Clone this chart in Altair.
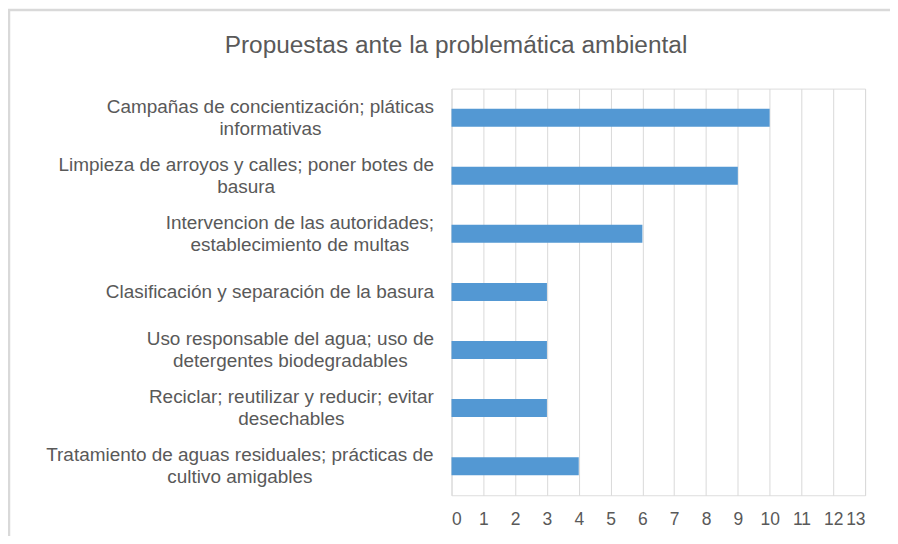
import json
import altair as alt
import pandas as pd

# ---------------- data ----------------
categories = [
    "Campañas de concientización; pláticas\ninformativas",
    "Limpieza de arroyos y calles; poner botes de\nbasura",
    "Intervencion de las autoridades;\nestablecimiento de multas",
    "Clasificación y separación de la basura",
    "Uso responsable del agua; uso de\ndetergentes biodegradables",
    "Reciclar; reutilizar y reducir; evitar\ndesechables",
    "Tratamiento de aguas residuales; prácticas de\ncultivo amigables",
]
values = [10, 9, 6, 3, 3, 3, 4]
x_ticks = list(range(0, 14))
title_text = "Propuestas ante la problemática ambiental"

df = pd.DataFrame({"cat": categories, "val": values})

# ---------------- styling ----------------
FONT = "Liberation Sans"
TEXT = "#595959"
GRID = "#d9d9d9"
BAR = "#5398D3"
LABEL_SIZE = 19
LINE_H = 22
GAP = 18

# Arial / Liberation Sans advance widths (1/1000 em) for centering label blocks
W = {
    "a": 556, "b": 556, "c": 500, "d": 556, "e": 556, "f": 278, "g": 556, "h": 556,
    "i": 222, "j": 222, "k": 500, "l": 222, "m": 833, "n": 556, "o": 556, "p": 556,
    "q": 556, "r": 333, "s": 500, "t": 278, "u": 556, "v": 500, "w": 722, "x": 500,
    "y": 500, "z": 500, "á": 556, "é": 556, "í": 278, "ó": 556, "ñ": 556, " ": 278,
    ";": 278, "C": 722, "L": 556, "I": 278, "U": 722, "R": 722, "T": 611, "P": 667,
}


def text_width(s, size):
    return sum(W.get(ch, 556) for ch in s) / 1000.0 * size


pad_conds = []
for c in categories:
    w = max(text_width(line, LABEL_SIZE) for line in c.split("\n"))
    pad_conds.append({"test": f"datum.value === {json.dumps(c)}", "value": round(GAP + w / 2, 1)})

bars = alt.Chart(df).mark_bar(color=BAR).encode(
    x=alt.X(
        "val:Q",
        scale=alt.Scale(domain=[0, 13], nice=False),
        axis=alt.Axis(
            title=None,
            values=x_ticks,
            orient="bottom",
            grid=True,
            gridColor=GRID,
            gridWidth=1,
            domain=False,
            ticks=False,
            labelPadding=15,
            labelFontSize=17.5,
            labelColor=TEXT,
            labelFont=FONT,
            labelOverlap=False,
        ),
    ),
    y=alt.Y(
        "cat:N",
        sort=categories,
        scale=alt.Scale(paddingInner=0.69, paddingOuter=0.345),
        axis=alt.Axis(
            title=None,
            domain=False,
            ticks=False,
            grid=False,
            labelExpr="split(datum.label, '\\n')",
            labelAlign="center",
            labelBaseline="middle",
            labelPadding={"condition": pad_conds, "value": GAP},
            labelOffset={
                "condition": {"test": "indexof(datum.value, '\\n') >= 0", "value": -LINE_H / 2},
                "value": 0,
            },
            labelFontSize=LABEL_SIZE,
            labelLineHeight=LINE_H,
            labelColor=TEXT,
            labelFont=FONT,
            labelLimit=0,
        ),
    ),
)

frame = alt.Chart(alt.Data(values=[{"k": 1}])).mark_rect(
    fill=None, stroke=GRID, strokeWidth=2.5
).encode(
    x=alt.value(-444),
    x2=alt.value(480),
    y=alt.value(-79),
    y2=alt.value(480),
)

chart = (
    alt.layer(frame, bars)
    .properties(
        width=415,
        height=408,
        autosize=alt.AutoSizeParams(type="none"),
        padding={"left": 445, "top": 80, "right": 25, "bottom": 40},
        title=alt.TitleParams(
            text=title_text,
            font=FONT,
            fontSize=24.5,
            fontWeight="normal",
            color=TEXT,
            anchor="middle",
            dx=-203,
            offset=-50,
        ),
    )
    .configure_view(stroke=None)
    .configure(background="white")
)

chart.save("out.html", embed_options={"renderer": "svg", "actions": False})
